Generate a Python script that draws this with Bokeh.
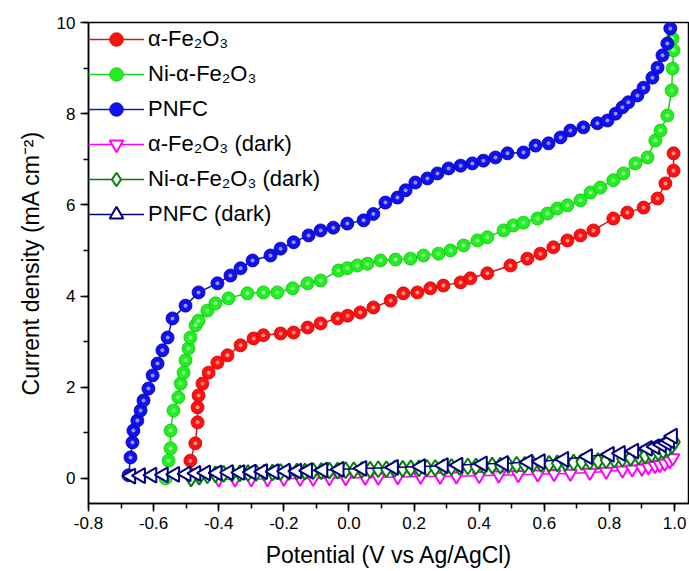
from bokeh.plotting import figure
from bokeh.models import Legend, LegendItem, SingleIntervalTicker, PrintfTickFormatter, Range1d
from bokeh.embed import file_html
from bokeh.resources import INLINE

# ---- data ----
fe_x = [-0.490, -0.487, -0.472, -0.465, -0.465, -0.462, -0.450, -0.431, -0.404, -0.373, -0.333,
        -0.293, -0.263, -0.210, -0.170, -0.127, -0.087, -0.035, -0.004, 0.035, 0.075, 0.128,
        0.167, 0.210, 0.250, 0.290, 0.343, 0.373, 0.425, 0.496, 0.548, 0.588, 0.628, 0.671,
        0.711, 0.751, 0.812, 0.855, 0.905, 0.948, 0.972, 0.997, 0.997]
fe_y = [0.10, 0.39, 0.77, 1.23, 1.56, 1.82, 2.08, 2.32, 2.54, 2.70, 2.92,
        3.07, 3.14, 3.18, 3.20, 3.31, 3.40, 3.51, 3.57, 3.64, 3.75, 3.90,
        4.06, 4.08, 4.17, 4.23, 4.30, 4.39, 4.50, 4.67, 4.82, 4.93, 5.07, 5.22,
        5.33, 5.44, 5.70, 5.83, 5.94, 6.14, 6.47, 6.75, 7.13]

ni_x = [-0.563, -0.554, -0.548, -0.548, -0.539, -0.524, -0.517, -0.508, -0.502, -0.493, -0.487,
        -0.471, -0.462, -0.435, -0.410, -0.370, -0.312, -0.263, -0.220, -0.173, -0.127, -0.087,
        -0.032, -0.005, 0.026, 0.057, 0.097, 0.143, 0.189, 0.229, 0.275, 0.312, 0.352, 0.395,
        0.425, 0.475, 0.505, 0.536, 0.579, 0.610, 0.640, 0.671, 0.711, 0.742, 0.772, 0.812,
        0.843, 0.880, 0.917, 0.941, 0.957, 0.978, 0.991, 0.994, 0.997, 0.994]
ni_y = [0.00, 0.39, 0.66, 1.05, 1.49, 1.78, 2.08, 2.32, 2.59, 2.85, 3.09,
        3.36, 3.46, 3.68, 3.84, 3.95, 4.06, 4.08, 4.08, 4.17, 4.28, 4.34,
        4.56, 4.61, 4.67, 4.71, 4.78, 4.80, 4.82, 4.89, 4.93, 5.00, 5.11, 5.22,
        5.29, 5.44, 5.55, 5.61, 5.70, 5.81, 5.92, 5.99, 6.10, 6.27, 6.38, 6.54,
        6.69, 6.91, 7.04, 7.41, 7.63, 7.96, 8.51, 8.99, 9.39, 9.65]

pn_x = [-0.677, -0.671, -0.665, -0.662, -0.650, -0.640, -0.631, -0.616, -0.603, -0.588, -0.573,
        -0.557, -0.542, -0.502, -0.462, -0.404, -0.364, -0.333, -0.296, -0.241, -0.210, -0.170,
        -0.124, -0.087, -0.048, -0.005, 0.045, 0.075, 0.112, 0.149, 0.174, 0.204, 0.241, 0.272,
        0.306, 0.343, 0.379, 0.413, 0.450, 0.487, 0.536, 0.573, 0.613, 0.650, 0.680, 0.720,
        0.763, 0.794, 0.819, 0.840, 0.858, 0.886, 0.905, 0.932, 0.948, 0.963, 0.978, 0.987]
pn_y = [0.07, 0.46, 0.79, 1.05, 1.27, 1.49, 1.71, 1.97, 2.26, 2.52, 2.81,
        3.09, 3.51, 3.79, 4.08, 4.28, 4.45, 4.61, 4.78, 4.89, 5.04, 5.18,
        5.33, 5.44, 5.50, 5.59, 5.66, 5.80, 6.05, 6.16, 6.32, 6.49, 6.58, 6.69,
        6.80, 6.86, 6.91, 6.97, 7.04, 7.13, 7.15, 7.30, 7.35, 7.48, 7.63, 7.70,
        7.79, 7.85, 8.00, 8.14, 8.25, 8.40, 8.57, 8.79, 9.01, 9.28, 9.54, 9.87]

fed_x = [-0.400, -0.350, -0.300, -0.250, -0.200, -0.150, -0.110, -0.060, -0.010, 0.050, 0.090,
         0.150, 0.220, 0.280, 0.330, 0.400, 0.460, 0.520, 0.580, 0.630, 0.680, 0.740, 0.790,
         0.840, 0.870, 0.900, 0.920, 0.940, 0.955, 0.970, 0.985, 0.995]
fed_y = [-0.02, -0.02, -0.01, -0.01, 0.00, 0.00, 0.00, 0.01, 0.01, 0.02, 0.02,
         0.03, 0.04, 0.04, 0.05, 0.06, 0.07, 0.08, 0.09, 0.10, 0.11, 0.13, 0.15,
         0.18, 0.20, 0.22, 0.25, 0.28, 0.30, 0.33, 0.38, 0.45]

nid_x = [-0.485, -0.460, -0.435, -0.410, -0.385, -0.360, -0.335, -0.310, -0.285, -0.260, -0.235,
         -0.210, -0.185, -0.160, -0.135, -0.110, -0.085, -0.060, -0.035, -0.010, 0.015, 0.040,
         0.065, 0.090, 0.115, 0.140, 0.165, 0.190, 0.215, 0.240, 0.265, 0.290, 0.315, 0.340,
         0.365, 0.390, 0.415, 0.440, 0.465, 0.490, 0.515, 0.540, 0.565, 0.590, 0.615, 0.640,
         0.665, 0.690, 0.715, 0.740, 0.765, 0.790, 0.815, 0.840, 0.865, 0.890, 0.910, 0.930,
         0.950, 0.965, 0.980, 0.992, 1.000]
nid_y = [0.00, 0.04, 0.07, 0.09, 0.10, 0.11, 0.11, 0.12, 0.12, 0.13, 0.13,
         0.14, 0.14, 0.15, 0.15, 0.16, 0.16, 0.17, 0.17, 0.18, 0.18, 0.19,
         0.19, 0.20, 0.20, 0.21, 0.21, 0.22, 0.22, 0.23, 0.23, 0.24, 0.25, 0.25,
         0.26, 0.26, 0.27, 0.28, 0.28, 0.29, 0.30, 0.30, 0.31, 0.32, 0.32, 0.33,
         0.34, 0.35, 0.36, 0.37, 0.38, 0.40, 0.41, 0.43, 0.45, 0.48, 0.50, 0.53,
         0.57, 0.61, 0.66, 0.72, 0.80]

pnd_x = [-0.670, -0.640, -0.605, -0.570, -0.535, -0.500, -0.470, -0.440, -0.405, -0.370, -0.335,
         -0.300, -0.265, -0.230, -0.195, -0.160, -0.127, -0.080, -0.030, 0.040, 0.137, 0.220,
         0.290, 0.335, 0.410, 0.475, 0.550, 0.588, 0.660, 0.733, 0.800, 0.834, 0.875, 0.917,
         0.940, 0.960, 0.975, 0.985, 0.994]
pnd_y = [0.05, 0.06, 0.07, 0.08, 0.09, 0.10, 0.11, 0.12, 0.12, 0.13, 0.13,
         0.14, 0.15, 0.15, 0.16, 0.16, 0.17, 0.18, 0.20, 0.22, 0.24, 0.26,
         0.28, 0.29, 0.32, 0.33, 0.36, 0.37, 0.42, 0.48, 0.53, 0.55, 0.60, 0.66,
         0.70, 0.74, 0.78, 0.83, 0.93]

labels = ["α-Fe₂O₃", "Ni-α-Fe₂O₃", "PNFC", "α-Fe₂O₃ (dark)", "Ni-α-Fe₂O₃ (dark)", "PNFC (dark)"]
x_ticks_label_fmt = "%.1f"

FONT = "Liberation Sans"

p = figure(width=689, height=571, output_backend="svg", toolbar_location=None,
           x_range=Range1d(-0.8, 1.046), y_range=Range1d(-0.55, 10.0),
           min_border_left=88, min_border_right=0, min_border_top=22, min_border_bottom=68)
p.xgrid.visible = False
p.ygrid.visible = False
p.outline_line_color = "black"
p.outline_line_width = 1.5
p.background_fill_color = "white"
p.border_fill_color = "white"

items = []

def light(xs, ys, line_c, fill_c, edge_c, label):
    r1 = p.line(xs, ys, line_color=line_c, line_width=1.5)
    r2 = p.scatter(xs, ys, marker="circle", size=13, fill_color=fill_c, line_color=edge_c, line_width=0.8)
    p.scatter(xs, ys, marker="circle", size=4, fill_color="white", fill_alpha=0.55, line_color=None)
    items.append(LegendItem(label=label, renderers=[r1, r2]))

def dark(xs, ys, color, marker, size, label, angle=0.0):
    r1 = p.line(xs, ys, line_color=color, line_width=1.5)
    r2 = p.scatter(xs, ys, marker=marker, size=size, fill_color="white", line_color=color,
                   line_width=2, angle=angle)
    items.append(LegendItem(label=label, renderers=[r1, r2]))

light(fe_x, fe_y, "#c81e1e", "#ff1010", "#d00000", labels[0])
light(ni_x, ni_y, "#20d020", "#20f020", "#10c010", labels[1])
light(pn_x, pn_y, "#1a1a9a", "#1010f0", "#0000b0", labels[2])
dark(fed_x, fed_y, "#ff00ff", "inverted_triangle", 13, labels[3])
dark(nid_x, nid_y, "#008000", "diamond", 16, labels[4])
dark(pnd_x, pnd_y, "#000080", "triangle", 15, labels[5], angle=1.5708)

legend = Legend(items=items, location="top_left", orientation="vertical",
                glyph_width=56, glyph_height=34, label_height=34, spacing=1,
                padding=0, margin=0, label_standoff=4,
                label_text_font=FONT, label_text_font_size="22px", label_text_color="black",
                background_fill_alpha=0, border_line_color=None)
p.add_layout(legend)

xax = p.xaxis[0]
yax = p.yaxis[0]
xax.ticker = SingleIntervalTicker(interval=0.2, num_minor_ticks=2)
yax.ticker = SingleIntervalTicker(interval=2, num_minor_ticks=2)
xax.formatter = PrintfTickFormatter(format=x_ticks_label_fmt)
yax.formatter = PrintfTickFormatter(format="%d")
xax.axis_label = "Potential (V vs Ag/AgCl)"
yax.axis_label = "Current density (mA cm⁻²)"
for ax in (xax, yax):
    ax.axis_line_width = 1.5
    ax.axis_line_color = "black"
    ax.major_tick_line_width = 1.5
    ax.minor_tick_line_width = 1.5
    ax.major_tick_out = 8
    ax.major_tick_in = 0
    ax.minor_tick_out = 5
    ax.minor_tick_in = 0
    ax.major_label_text_font = FONT
    ax.major_label_text_font_size = "17px"
    ax.major_label_text_color = "black"
    ax.axis_label_text_font = FONT
    ax.axis_label_text_font_size = "23px"
    ax.axis_label_text_font_style = "normal"
    ax.axis_label_text_color = "black"
    ax.major_label_standoff = 5
xax.axis_label_standoff = 10
yax.axis_label_standoff = 10

open("out.html", "w").write(file_html(p, INLINE))
